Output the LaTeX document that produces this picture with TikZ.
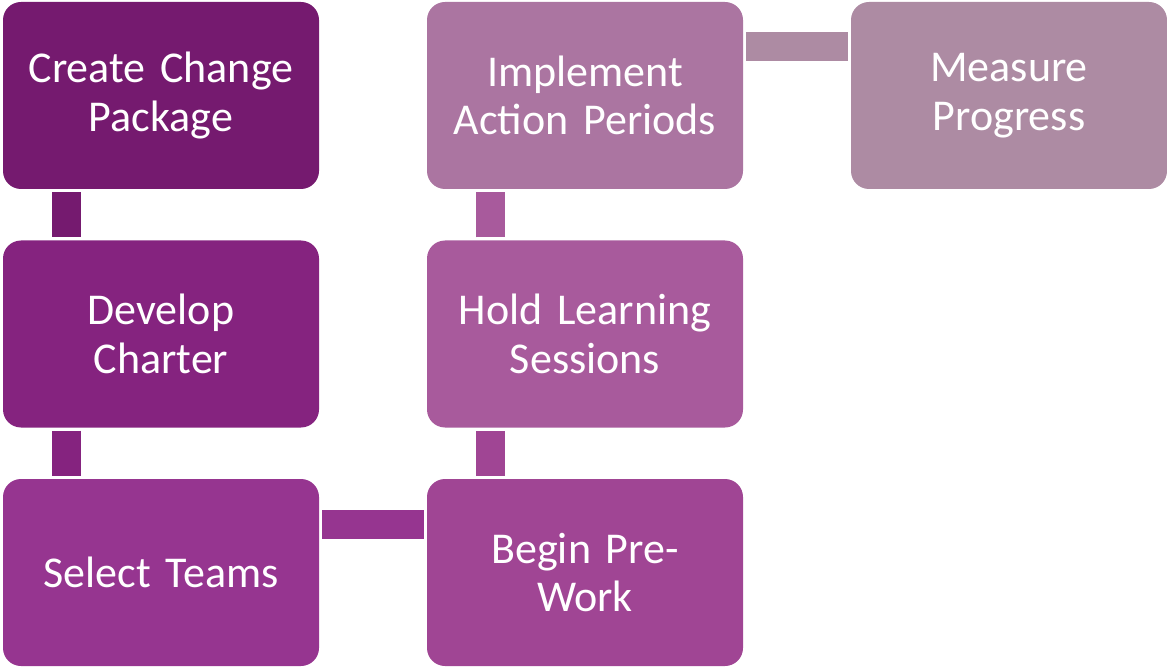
\documentclass[tikz,border=0pt]{standalone}
\usepackage{fontspec}
\setmainfont{Carlito}
\definecolor{cA}{HTML}{751A6F}
\definecolor{cB}{HTML}{85237F}
\definecolor{cC}{HTML}{963590}
\definecolor{cD}{HTML}{A04594}
\definecolor{cE}{HTML}{A85A9C}
\definecolor{cF}{HTML}{AB75A1}
\definecolor{cG}{HTML}{AD8BA3}
\tikzset{
  stepbox/.style={rectangle, rounded corners=18pt, minimum width=316pt, minimum height=187pt,
    inner sep=0pt, text=white, align=center, font=\fontsize{44}{48.5}\selectfont, text width=310pt},
  link/.style={line width=29pt, shorten <=3pt, shorten >=3pt}
}
\begin{document}
\begin{tikzpicture}[x=1pt,y=-1pt]
\useasboundingbox (0,0) rectangle (1167,668);
\node[stepbox, fill=cA] (b1) at (161,95.5) {Create Change\\Package};
\node[stepbox, fill=cB] (b2) at (161,334) {Develop\\Charter};
\node[stepbox, fill=cC] (b3) at (161,572.5) {Select Teams};
\node[stepbox, fill=cD] (b4) at (585,572.5) {Begin Pre-\\Work};
\node[stepbox, fill=cE] (b5) at (585,334) {Hold Learning\\Sessions};
\node[stepbox, fill=cF] (b6) at (585,95.5) {Implement\\Action Periods};
\node[stepbox, fill=cG] (b7) at (1009,95.5) {Measure\\Progress};
\draw[link, cA] ([xshift=-94.5pt]b1.south) -- ([xshift=-94.5pt]b2.north);
\draw[link, cB] ([xshift=-94.5pt]b2.south) -- ([xshift=-94.5pt]b3.north);
\draw[link, cC] ([yshift=48.5pt]b3.east) -- ([yshift=48.5pt]b4.west);
\draw[link, cD] ([xshift=-95pt]b4.north) -- ([xshift=-95pt]b5.south);
\draw[link, cE] ([xshift=-95pt]b5.north) -- ([xshift=-95pt]b6.south);
\draw[link, cG] ([yshift=49pt]b6.east) -- ([yshift=49pt]b7.west);
\end{tikzpicture}
\end{document}
